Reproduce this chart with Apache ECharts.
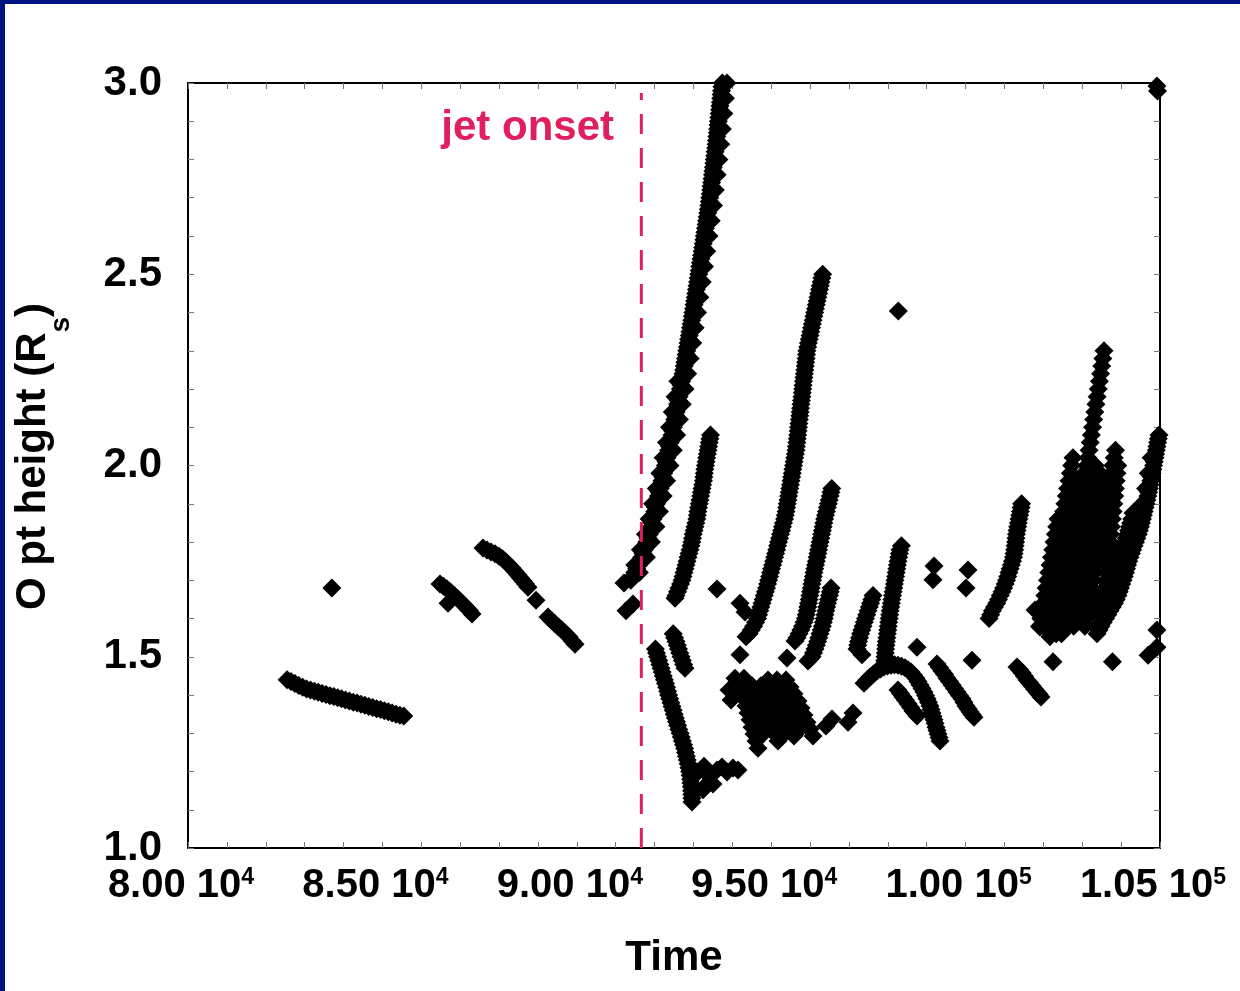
<!DOCTYPE html>
<html><head><meta charset="utf-8">
<script src="https://cdn.jsdelivr.net/npm/echarts@6/dist/echarts.min.js"></script>
<style>
html,body{margin:0;padding:0;background:#fff;}
#chart{position:absolute;left:0;top:0;width:1240px;height:991px;}
.bl{position:absolute;left:0;top:0;width:5px;height:991px;background:#001282;}
.bt{position:absolute;left:0;top:0;width:1240px;height:4px;background:#001282;}
</style></head>
<body><div id="chart"></div><div class="bl"></div><div class="bt"></div>
<script>
// ---- tick labels ----
const xTicks = [80000,85000,90000,95000,100000,105000];
const xTickText = ['8.00 10','8.50 10','9.00 10','9.50 10','1.00 10','1.05 10'];
const xTickExp = ['4','4','4','4','5','5'];
const jetOnset = 91660;

// ---- data (time, O-point height) ----
const preJetLong = [[82550,1.440],[82650,1.435],[82750,1.430],[82850,1.425],[82950,1.420],[83050,1.416],[83150,1.413],[83250,1.410],[83350,1.407],[83450,1.404],[83550,1.401],[83650,1.398],[83750,1.396],[83850,1.393],[83950,1.390],[84050,1.387],[84150,1.384],[84250,1.381],[84350,1.379],[84450,1.376],[84550,1.373],[84650,1.370],[84750,1.367],[84850,1.364],[84950,1.362],[85050,1.359],[85150,1.356],[85250,1.353],[85350,1.350],[85450,1.347],[85550,1.345]];
const preJetSingle = [[83700,1.680]];
const preJetB = [[86482,1.690],[86572,1.684],[86662,1.677],[86752,1.669],[86842,1.661],[86932,1.652],[87022,1.643],[87100,1.635],[87177,1.627],[87241,1.620],[87305,1.612],[86688,1.640]];
const preJetC = [[87587,1.784],[87690,1.779],[87793,1.774],[87896,1.769],[87999,1.763],[88089,1.756],[88179,1.748],[88256,1.740],[88333,1.732],[88410,1.723],[88488,1.714],[88552,1.706],[88616,1.698],[88680,1.690],[88745,1.682],[88951,1.648],[89259,1.604],[89349,1.595],[89439,1.586],[89529,1.578],[89619,1.570],[89709,1.561],[89799,1.552],[89876,1.542],[89954,1.533]];
const nearOnset = [[91266,1.620],[91446,1.638],[91214,1.693]];
const trackD = [[91390,1.70],[91440,1.71],[91490,1.72],[91540,1.73],[91590,1.74],[91630,1.75],[91670,1.76],[91702,1.77],[91735,1.78],[91768,1.79],[91800,1.80],[91832,1.81],[91865,1.82],[91890,1.83],[91915,1.84],[91938,1.85],[91960,1.86],[91982,1.87],[92005,1.88],[92028,1.89],[92050,1.90],[92075,1.91],[92100,1.92],[92122,1.93],[92145,1.94],[92168,1.95],[92190,1.96],[92212,1.97],[92235,1.98],[92256,1.99],[92278,2.00],[92299,2.01],[92320,2.02],[92342,2.03],[92363,2.04],[92384,2.05],[92405,2.06],[92426,2.07],[92448,2.08],[92466,2.09],[92484,2.10],[92502,2.11],[92520,2.12],[92538,2.13],[92556,2.14],[92574,2.15],[92592,2.16],[92610,2.17],[92628,2.18],[92646,2.19],[92664,2.20],[92682,2.21],[92700,2.22],[92716,2.23],[92732,2.24],[92748,2.25],[92764,2.26],[92780,2.27],[92796,2.28],[92812,2.29],[92828,2.30],[92844,2.31],[92860,2.32],[92876,2.33],[92892,2.34],[92908,2.35],[92924,2.36],[92940,2.37],[92956,2.38],[92971,2.39],[92986,2.40],[93001,2.41],[93016,2.42],[93031,2.43],[93046,2.44],[93061,2.45],[93076,2.46],[93091,2.47],[93106,2.48],[93121,2.49],[93136,2.50],[93150,2.51],[93164,2.52],[93178,2.53],[93193,2.54],[93208,2.55],[93222,2.56],[93236,2.57],[93251,2.58],[93266,2.59],[93280,2.60],[93294,2.61],[93309,2.62],[93324,2.63],[93338,2.64],[93352,2.65],[93367,2.66],[93382,2.67],[93396,2.68],[93408,2.69],[93420,2.70],[93432,2.71],[93443,2.72],[93454,2.73],[93466,2.74],[93478,2.75],[93489,2.76],[93500,2.77],[93512,2.78],[93524,2.79],[93535,2.80],[93546,2.81],[93558,2.82],[93570,2.83],[93582,2.84],[93592,2.85],[93602,2.86],[93612,2.87],[93622,2.88],[93632,2.89],[93642,2.90],[93652,2.91],[93662,2.92],[93672,2.93],[93682,2.94],[93692,2.95],[93702,2.96],[93712,2.97],[93722,2.98],[93732,2.99],[93742,3.00]];
const trackD2 = [[91610,1.72],[91790,1.76],[91920,1.80],[92035,1.84],[92125,1.88],[92220,1.92],[92310,1.96],[92398,2.00],[92483,2.04],[92568,2.08],[92640,2.12],[92712,2.16],[92784,2.20],[92852,2.24],[92916,2.28],[92980,2.32],[93044,2.36],[93106,2.40],[93166,2.44],[93226,2.48],[93284,2.52],[93342,2.56],[93400,2.60],[93458,2.64],[93516,2.68],[93563,2.72],[93609,2.76],[93655,2.80],[93702,2.84],[93742,2.88],[93782,2.92],[93822,2.96],[93862,3.00]];
const trackD3 = [[91490,1.74],[91635,1.78],[91765,1.82],[91860,1.86],[91950,1.90],[92045,1.94],[92135,1.98],[92220,2.02],[92305,2.06],[92384,2.10],[92456,2.14],[92528,2.18],[92600,2.22]];
const trackF = [[93439,2.08],[93422,2.07],[93406,2.06],[93390,2.05],[93375,2.04],[93358,2.03],[93340,2.02],[93324,2.01],[93308,2.00],[93294,1.99],[93280,1.98],[93268,1.97],[93257,1.96],[93238,1.95],[93220,1.94],[93202,1.93],[93185,1.92],[93167,1.91],[93149,1.90],[93131,1.89],[93113,1.88],[93100,1.87],[93087,1.86],[93062,1.85],[93038,1.84],[93016,1.83],[92994,1.82],[92976,1.81],[92958,1.80],[92935,1.79],[92912,1.78],[92886,1.77],[92860,1.76],[92834,1.75],[92809,1.74],[92784,1.73],[92758,1.72],[92732,1.71],[92706,1.70],[92668,1.69],[92629,1.68],[92590,1.67],[92552,1.66],[92526,1.653]];
const trackE1 = [[92022,1.52],[92050,1.51],[92078,1.50],[92108,1.49],[92137,1.48],[92166,1.47],[92194,1.46],[92224,1.45],[92253,1.44],[92282,1.43],[92310,1.42],[92336,1.41],[92361,1.40],[92390,1.39],[92420,1.38],[92448,1.37],[92477,1.36],[92506,1.35],[92536,1.34],[92564,1.33],[92593,1.32],[92625,1.31],[92657,1.30],[92686,1.29],[92716,1.28],[92744,1.27],[92773,1.26],[92796,1.25],[92819,1.24],[92841,1.23],[92863,1.22],[92882,1.21],[92902,1.20],[92914,1.19],[92927,1.18],[92936,1.17],[92945,1.16],[92952,1.15],[92958,1.14],[92960,1.13],[92963,1.12]];
const trackE2 = [[92480,1.56],[92516,1.55],[92552,1.54],[92584,1.53],[92616,1.52],[92648,1.51],[92681,1.50],[92714,1.49],[92747,1.48],[92783,1.47]];
const vBottom = [[93118,1.199],[93272,1.214],[93400,1.188],[93503,1.167],[93606,1.204],[93735,1.212],[93864,1.199],[94018,1.209],[94146,1.204],[93246,1.152],[93375,1.170]];
const trackG = [[96324,2.50],[96304,2.49],[96283,2.48],[96262,2.47],[96242,2.46],[96222,2.45],[96201,2.44],[96180,2.43],[96160,2.42],[96140,2.41],[96119,2.40],[96098,2.39],[96078,2.38],[96058,2.37],[96037,2.36],[96018,2.35],[95998,2.34],[95978,2.33],[95957,2.32],[95938,2.31],[95918,2.30],[95908,2.29],[95898,2.28],[95886,2.27],[95875,2.26],[95864,2.25],[95854,2.24],[95842,2.23],[95831,2.22],[95820,2.21],[95810,2.20],[95800,2.19],[95790,2.18],[95778,2.17],[95767,2.16],[95756,2.15],[95746,2.14],[95734,2.13],[95723,2.12],[95712,2.11],[95702,2.10],[95692,2.09],[95682,2.08],[95670,2.07],[95659,2.06],[95648,2.05],[95638,2.04],[95622,2.03],[95605,2.02],[95590,2.01],[95574,2.00],[95558,1.99],[95541,1.98],[95526,1.97],[95510,1.96],[95494,1.95],[95477,1.94],[95462,1.93],[95446,1.92],[95430,1.91],[95413,1.90],[95398,1.89],[95382,1.88],[95362,1.87],[95343,1.86],[95317,1.85],[95291,1.84],[95266,1.83],[95240,1.82],[95215,1.81],[95190,1.80],[95164,1.79],[95139,1.78],[95114,1.77],[95088,1.76],[95062,1.75],[95036,1.74],[95010,1.73],[94985,1.72],[94960,1.71],[94934,1.70],[94907,1.69],[94880,1.68],[94850,1.67],[94821,1.66],[94792,1.65],[94764,1.64],[94734,1.63],[94705,1.62],[94677,1.61],[94649,1.60],[94598,1.59],[94548,1.58],[94489,1.57],[94430,1.56],[94353,1.552]];
const hookG = [[94198,1.640],[94327,1.617],[94198,1.505],[93606,1.677]];
const trackH = [[96557,1.94],[96536,1.93],[96516,1.92],[96492,1.91],[96469,1.90],[96444,1.89],[96420,1.88],[96397,1.87],[96374,1.86],[96354,1.85],[96335,1.84],[96316,1.83],[96297,1.82],[96278,1.81],[96258,1.80],[96238,1.79],[96219,1.78],[96200,1.77],[96181,1.76],[96160,1.75],[96140,1.74],[96120,1.73],[96101,1.72],[96083,1.71],[96065,1.70],[96047,1.69],[96029,1.68],[96012,1.67],[95995,1.66],[95978,1.65],[95960,1.64],[95942,1.63],[95924,1.62],[95902,1.61],[95880,1.60],[95843,1.59],[95806,1.58],[95761,1.57],[95716,1.56],[95664,1.55],[95612,1.541]];
const trackI = [[96539,1.68],[96518,1.67],[96498,1.66],[96474,1.65],[96449,1.64],[96427,1.63],[96405,1.62],[96384,1.61],[96364,1.60],[96340,1.59],[96315,1.58],[96285,1.57],[96255,1.56],[96224,1.55],[96194,1.54],[96160,1.53],[96127,1.52],[96088,1.51],[96050,1.50],[95996,1.494],[95946,1.489],[95406,1.497]];
const clusterC1 = [[94069,1.444],[94146,1.426],[94224,1.408],[94301,1.390],[94352,1.371],[94404,1.353],[94455,1.335],[94506,1.316],[94558,1.298],[94609,1.280],[94661,1.261]];
const clusterC12 = [[94299,1.444],[94376,1.426],[94454,1.408],[94531,1.390],[94582,1.371],[94634,1.353],[94685,1.335],[94736,1.316],[94788,1.298]];
const clusterC2 = [[94506,1.424],[94609,1.408],[94712,1.390],[94789,1.371],[94866,1.353],[94943,1.335],[95021,1.316],[95098,1.298],[95175,1.280]];
const clusterC23 = [[94736,1.424],[94839,1.408],[94942,1.390],[95019,1.371],[95096,1.353],[95173,1.335],[95251,1.316],[95328,1.298]];
const clusterC3 = [[94918,1.439],[95021,1.421],[95124,1.403],[95201,1.384],[95278,1.366],[95355,1.348],[95432,1.329],[95510,1.311],[95587,1.293]];
const clusterC34 = [[95148,1.439],[95251,1.421],[95354,1.403],[95431,1.384],[95508,1.366],[95585,1.348],[95662,1.329],[95740,1.311]];
const clusterC4 = [[95381,1.439],[95484,1.421],[95587,1.403],[95690,1.384],[95767,1.366],[95844,1.348],[95921,1.329],[95998,1.311],[96076,1.293],[93915,1.413],[93967,1.387]];
const midSingles = [[98270,2.404],[99187,1.737],[99162,1.701],[100062,1.727],[100011,1.680],[98750,1.525],[100165,1.491],[96410,1.319],[96564,1.337],[96975,1.329],[97104,1.353]];
const trackK = [[97619,1.66],[97587,1.65],[97555,1.64],[97523,1.63],[97491,1.62],[97458,1.61],[97426,1.60],[97394,1.59],[97362,1.58],[97330,1.57],[97298,1.56],[97272,1.55],[97246,1.54],[97226,1.53],[97207,1.52],[97336,1.505]];
const trackL = [[98350,1.79],[98313,1.78],[98296,1.77],[98279,1.76],[98262,1.75],[98246,1.74],[98230,1.73],[98215,1.72],[98200,1.71],[98184,1.70],[98168,1.69],[98153,1.68],[98136,1.67],[98120,1.66],[98104,1.65],[98089,1.64],[98075,1.63],[98061,1.62],[98048,1.61],[98035,1.60],[98022,1.59],[98010,1.58],[97998,1.57],[97986,1.56],[97974,1.55],[97963,1.54],[97953,1.53],[97943,1.52],[97935,1.51],[97927,1.50],[97920,1.49],[97914,1.48]];
const arcP = [[97387,1.431],[97464,1.439],[97541,1.447],[97631,1.455],[97721,1.463],[97811,1.468],[97901,1.473],[97991,1.476],[98081,1.478],[98171,1.479],[98261,1.478],[98351,1.475],[98441,1.471],[98518,1.466],[98595,1.460],[98660,1.452],[98724,1.444],[98776,1.435],[98827,1.426],[98878,1.417],[98930,1.408],[98968,1.399],[99007,1.390],[99046,1.381],[99085,1.371],[99110,1.362],[99136,1.353],[99162,1.344],[99187,1.335],[99213,1.326],[99239,1.316],[99264,1.307],[99290,1.298],[99316,1.289],[99342,1.280]];
const arcQ = [[98261,1.413],[98326,1.404],[98390,1.395],[98455,1.386],[98519,1.377],[98583,1.368],[98647,1.358],[98700,1.352],[98750,1.345]];
const arcR = [[99264,1.481],[99328,1.472],[99393,1.463],[99457,1.454],[99521,1.444],[99586,1.435],[99650,1.426],[99714,1.417],[99779,1.408],[99843,1.399],[99907,1.390],[99958,1.381],[100010,1.371],[100062,1.364],[100113,1.356],[100165,1.349],[100216,1.342]];
const trackM = [[101441,1.90],[101426,1.89],[101410,1.88],[101392,1.87],[101374,1.86],[101357,1.85],[101340,1.84],[101324,1.83],[101307,1.82],[101296,1.81],[101286,1.80],[101274,1.79],[101261,1.78],[101246,1.77],[101232,1.76],[101204,1.75],[101176,1.74],[101145,1.73],[101114,1.72],[101084,1.71],[101053,1.70],[101016,1.69],[100978,1.68],[100934,1.67],[100891,1.66],[100846,1.65],[100801,1.64],[100744,1.63],[100688,1.62],[100646,1.61],[100603,1.60]];
const trackN = [[101322,1.473],[101386,1.466],[101450,1.458],[101515,1.449],[101579,1.439],[101644,1.432],[101708,1.424],[101772,1.416],[101836,1.408],[101888,1.402],[101939,1.395]];
const fuzz0 = [[102377,1.86],[102343,1.84],[102309,1.82],[102275,1.80],[102241,1.78],[102207,1.76],[102173,1.74],[102139,1.72],[102105,1.70],[102071,1.68],[102037,1.66],[102003,1.64],[101969,1.62],[101935,1.60],[101901,1.58]];
const fuzz1 = [[102763,2.02],[102729,2.00],[102693,1.98],[102659,1.96],[102623,1.94],[102590,1.92],[102554,1.90],[102520,1.88],[102485,1.86],[102451,1.84],[102417,1.82],[102381,1.80],[102348,1.78],[102312,1.76],[102278,1.74],[102242,1.72],[102209,1.70],[102173,1.68],[102139,1.66],[102103,1.64],[102070,1.62],[102036,1.60],[102000,1.58]];
const fuzzA = [[102832,1.96],[102798,1.94],[102764,1.92],[102730,1.90],[102696,1.88],[102662,1.86],[102628,1.84],[102594,1.82],[102560,1.80],[102526,1.78],[102492,1.76],[102458,1.74],[102424,1.72],[102390,1.70],[102356,1.68],[102322,1.66],[102288,1.64],[102254,1.62],[102220,1.60],[102186,1.58]];
const fuzz2 = [[103045,1.98],[103011,1.96],[102977,1.94],[102943,1.92],[102909,1.90],[102875,1.88],[102841,1.86],[102807,1.84],[102773,1.82],[102739,1.80],[102705,1.78],[102671,1.76],[102637,1.74],[102603,1.72],[102569,1.70],[102535,1.68],[102501,1.66],[102467,1.64],[102433,1.62],[102399,1.60],[102365,1.58],[102331,1.56]];
const fuzz3 = [[103560,2.30],[103530,2.28],[103501,2.26],[103471,2.24],[103442,2.22],[103412,2.20],[103383,2.18],[103353,2.16],[103324,2.14],[103294,2.12],[103265,2.10],[103235,2.08],[103206,2.06],[103176,2.04],[103147,2.02],[103117,2.00],[103088,1.98],[103058,1.96],[103029,1.94],[102999,1.92],[102970,1.90],[102940,1.88],[102911,1.86],[102881,1.84],[102852,1.82],[102822,1.80],[102793,1.78],[102763,1.76],[102734,1.74],[102704,1.72],[102675,1.70],[102645,1.68],[102616,1.66],[102586,1.64],[102557,1.62],[102527,1.60],[102498,1.58],[102468,1.56]];
const fuzzE = [[103335,2.00],[103301,1.98],[103267,1.96],[103233,1.94],[103199,1.92],[103165,1.90],[103131,1.88],[103097,1.86],[103063,1.84],[103029,1.82],[102995,1.80],[102961,1.78],[102927,1.76],[102893,1.74],[102859,1.72],[102825,1.70],[102791,1.68],[102757,1.66],[102723,1.64],[102689,1.62],[102655,1.60],[102621,1.58]];
const fuzz4 = [[103457,1.98],[103423,1.96],[103389,1.94],[103355,1.92],[103321,1.90],[103287,1.88],[103253,1.86],[103219,1.84],[103185,1.82],[103151,1.80],[103117,1.78],[103083,1.76],[103049,1.74],[103015,1.72],[102981,1.70],[102947,1.68],[102913,1.66],[102879,1.64],[102845,1.62],[102811,1.60],[102777,1.58]];
const fuzz5 = [[103855,2.04],[103821,2.02],[103787,2.00],[103752,1.98],[103718,1.96],[103684,1.94],[103650,1.92],[103615,1.90],[103581,1.88],[103547,1.86],[103513,1.84],[103478,1.82],[103444,1.80],[103410,1.78],[103376,1.76],[103341,1.74],[103307,1.72],[103273,1.70],[103239,1.68],[103204,1.66],[103170,1.64],[103136,1.62],[103102,1.60],[103067,1.58]];
const fuzzD = [[103914,2.00],[103894,1.98],[103874,1.96],[103854,1.94],[103834,1.92],[103814,1.90],[103794,1.88],[103774,1.86],[103754,1.84],[103734,1.82],[103714,1.80],[103694,1.78],[103674,1.76],[103654,1.74],[103634,1.72],[103614,1.70],[103594,1.68],[103574,1.66],[103554,1.64],[103534,1.62]];
const trackV = [[103349,1.62],[103394,1.63],[103439,1.64],[103483,1.65],[103527,1.66],[103572,1.67],[103617,1.68],[103660,1.69],[103704,1.70],[103750,1.71],[103797,1.72],[103840,1.73],[103884,1.74],[103920,1.75],[103956,1.76],[103990,1.77],[104025,1.78],[104060,1.79],[104095,1.80],[104130,1.81],[104165,1.82],[104192,1.83],[104218,1.84],[104245,1.85],[104272,1.86],[104306,1.876]];
const trackW = [[103380,1.56],[103432,1.57],[103483,1.58],[103541,1.59],[103599,1.60],[103656,1.61],[103714,1.62],[103772,1.63],[103830,1.64],[103875,1.65],[103920,1.66],[103952,1.67],[103984,1.68],[104016,1.69],[104049,1.70],[104081,1.71],[104113,1.72],[104139,1.73],[104165,1.74],[104197,1.75],[104229,1.76],[104264,1.77],[104298,1.78],[104334,1.79],[104370,1.80],[104406,1.81],[104442,1.82],[104470,1.83],[104499,1.84],[104524,1.85],[104548,1.86],[104571,1.87],[104594,1.88],[104618,1.89],[104643,1.90],[104666,1.91],[104689,1.92],[104708,1.93],[104728,1.94],[104746,1.95],[104764,1.96],[104781,1.97],[104798,1.98],[104816,1.99],[104834,2.00],[104853,2.01],[104872,2.02],[104888,2.03],[104905,2.04],[104922,2.05],[104939,2.06],[104957,2.07],[104975,2.08]];
const trackW2 = [[103383,1.58],[103614,1.62],[103820,1.66],[103949,1.70],[104065,1.74],[104198,1.78],[104342,1.82],[104448,1.86],[104543,1.90],[104628,1.94],[104698,1.98],[104772,2.02]];
const rightSingles = [[101785,1.622],[101914,1.578],[102171,1.552],[102248,1.487],[103777,1.487],[104694,1.504],[104922,1.570],[104922,1.525],[104922,2.992],[104935,2.979]];

const allPoints = [].concat(preJetLong, preJetSingle, preJetB, preJetC, nearOnset, trackD, trackD2, trackD3, trackF,
  trackE1, trackE2, vBottom, trackG, hookG, trackH, trackI, clusterC1, clusterC12, clusterC2, clusterC23, clusterC3, clusterC34, clusterC4, midSingles,
  trackK, trackL, arcP, arcQ, arcR, trackM, trackN, fuzz0, fuzz1, fuzzA, fuzz2, fuzz3, fuzzE, fuzz4, fuzz5, fuzzD, trackV, trackW, trackW2, rightSingles);

const FONT = '"Liberation Sans", Arial, Helvetica, sans-serif';
const PINK = '#e0205c';
const tickStyle = {show:true, inside:true, length:6, lineStyle:{color:'#777', width:1}};
const minorStyle = {show:true, splitNumber:5, length:6, lineStyle:{color:'#777', width:1}};

const chart = echarts.init(document.getElementById('chart'), null, {renderer:'canvas'});
chart.setOption({
  animation:false,
  backgroundColor:'#fff',
  grid:{left:188, right:80, top:83, bottom:143},
  xAxis:[{
    type:'value', min:80000, max:105000, interval:5000, position:'bottom',
    axisLine:{show:true, onZero:false, lineStyle:{color:'#000', width:2}},
    axisTick:tickStyle, minorTick:minorStyle, splitLine:{show:false},
    axisLabel:{show:true, margin:18, showMinLabel:true, showMaxLabel:true, padding:[0,14,0,0],
      formatter:function(v){const i=xTicks.indexOf(v); if(i<0) return ''; return '{m|'+xTickText[i]+'}{sup|'+xTickExp[i]+'}';},
      rich:{m:{fontFamily:FONT,fontWeight:'bold',fontSize:40,lineHeight:44,verticalAlign:'top',color:'#000'},
            sup:{fontFamily:FONT,fontWeight:'bold',fontSize:23,lineHeight:18,verticalAlign:'top',color:'#000'}}},
    name:'Time', nameLocation:'middle', nameGap:88,
    nameTextStyle:{fontFamily:FONT,fontWeight:'bold',fontSize:42,lineHeight:44,color:'#000'}
  },{
    type:'value', min:80000, max:105000, interval:5000, position:'top',
    axisLine:{show:true, onZero:false, lineStyle:{color:'#000', width:2}},
    axisTick:tickStyle, minorTick:minorStyle, splitLine:{show:false}, axisLabel:{show:false}
  }],
  yAxis:[{
    type:'value', min:1.0, max:3.0, interval:0.5, position:'left',
    axisLine:{show:true, onZero:false, lineStyle:{color:'#000', width:2}},
    axisTick:tickStyle, minorTick:minorStyle, splitLine:{show:false},
    axisLabel:{show:true, margin:26, fontFamily:FONT, fontWeight:'bold', fontSize:42, color:'#000',
      formatter:function(v){return v.toFixed(1);}},
    name:'{m|O pt height (R}{sub|s}{m|)}', nameLocation:'middle', nameGap:132,
    nameTextStyle:{fontFamily:FONT,fontWeight:'bold',fontSize:42,color:'#000', padding:[0,0,0,18],
      rich:{m:{fontFamily:FONT,fontWeight:'bold',fontSize:42,lineHeight:44,verticalAlign:'top',color:'#000'},
            sub:{fontFamily:FONT,fontWeight:'bold',fontSize:28,lineHeight:28,padding:[35,0,0,0],verticalAlign:'top',color:'#000'}}}
  },{
    type:'value', min:1.0, max:3.0, interval:0.5, position:'right',
    axisLine:{show:true, onZero:false, lineStyle:{color:'#000', width:2}},
    axisTick:tickStyle, minorTick:minorStyle, splitLine:{show:false}, axisLabel:{show:false}
  }],
  series:[{
    type:'scatter', xAxisIndex:0, yAxisIndex:0, symbol:'diamond', symbolSize:19, large:false,
    itemStyle:{color:'#000', opacity:1}, data:allPoints, z:2, silent:true
  },{
    type:'line', xAxisIndex:0, yAxisIndex:0, symbol:'none', z:5, silent:true,
    lineStyle:{color:PINK, width:3, type:[20,14]},
    data:[[jetOnset,1.0],[jetOnset,2.974]]
  }],
  graphic:[{
    type:'text', z:10, style:{text:'jet onset', x:614, y:128, textAlign:'right', textVerticalAlign:'middle',
      font:'bold 42px '+FONT, fill:PINK}
  }]
});
</script>
</body></html>
